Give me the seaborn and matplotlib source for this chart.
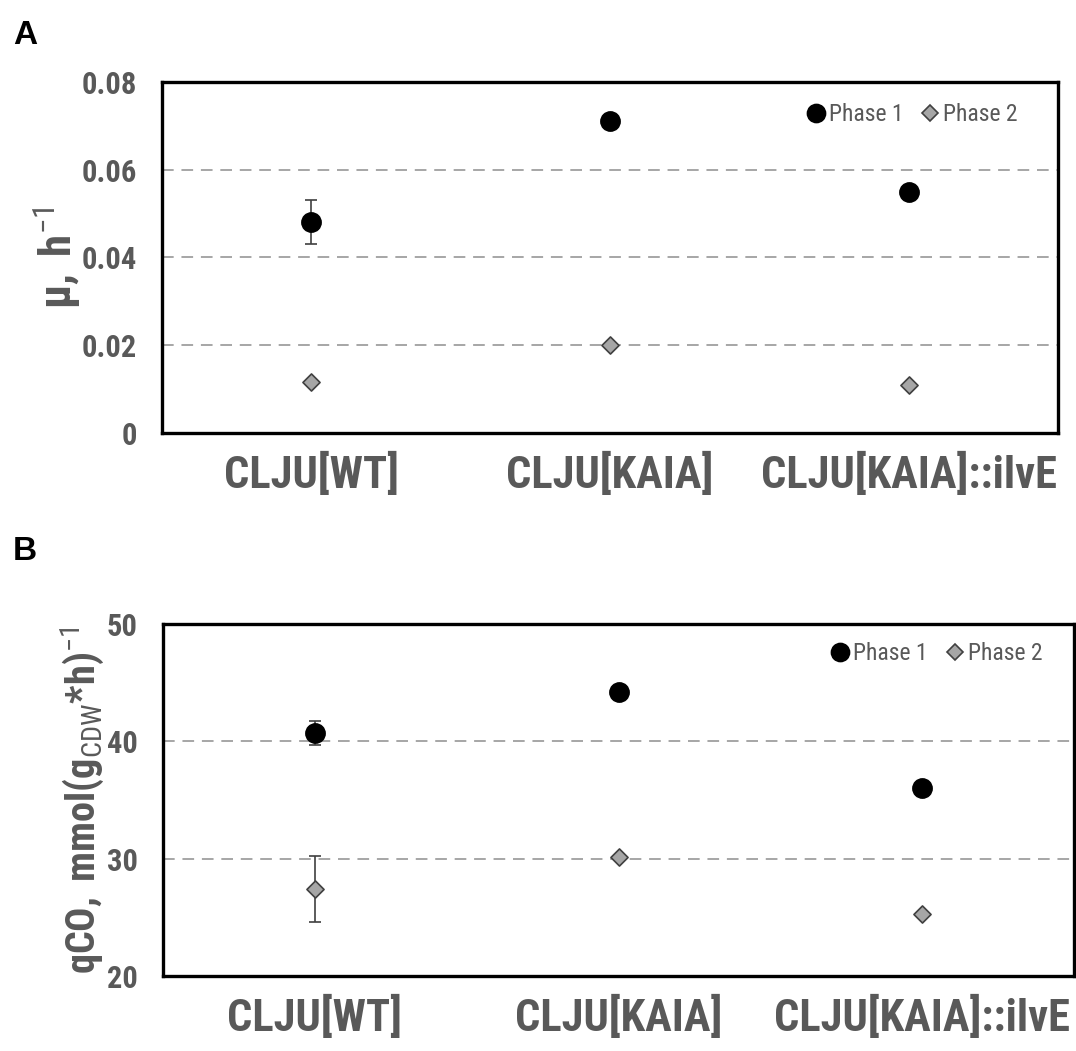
import pandas as pd
import matplotlib
matplotlib.use("Agg")
import matplotlib.pyplot as plt
import seaborn as sns
from matplotlib.lines import Line2D

# === DATA ===
strains = ["CLJU[WT]", "CLJU[KAIA]", "CLJU[KAIA]::ilvE"]
phases = ["Phase 1", "Phase 2"]

mu_phase1 = [0.048, 0.071, 0.055]
mu_phase1_err = [0.005, 0.0, 0.0]
mu_phase2 = [0.0117, 0.020, 0.011]
mu_phase2_err = [0.0, 0.0, 0.0]

qco_phase1 = [40.7, 44.2, 36.0]
qco_phase1_err = [1.0, 0.0, 0.0]
qco_phase2 = [27.4, 30.1, 25.3]
qco_phase2_err = [2.8, 0.0, 0.0]

mu_ticks = [0, 0.02, 0.04, 0.06, 0.08]
qco_ticks = [20, 30, 40, 50]

# === STYLE ===
sns.set_theme(style="white")
NARROW = ["Roboto Condensed", "Archivo Narrow", "Liberation Sans", "DejaVu Sans"]
plt.rcParams["font.family"] = NARROW
plt.rcParams["mathtext.fontset"] = "custom"
plt.rcParams["mathtext.rm"] = "Roboto Condensed"
plt.rcParams["mathtext.bf"] = "Roboto Condensed:bold"
plt.rcParams["mathtext.it"] = "Roboto Condensed:italic"

GREY_TXT = "#595959"
MARKERS = {"Phase 1": "o", "Phase 2": "D"}
FACES = {"Phase 1": "black", "Phase 2": "#a6a6a6"}
EDGES = {"Phase 1": "black", "Phase 2": "#404040"}
SIZES = {"Phase 1": 190, "Phase 2": 76}


def make_frame(p1, p1e, p2, p2e):
    rows = []
    for i, s in enumerate(strains):
        rows.append({"strain": s, "phase": "Phase 1", "value": p1[i], "err": p1e[i]})
        rows.append({"strain": s, "phase": "Phase 2", "value": p2[i], "err": p2e[i]})
    return pd.DataFrame(rows)


def draw_panel(ax, df, ticks, ylabel, ylabel_size, legend_anchor):
    for ph in phases:
        sub = df[df["phase"] == ph]
        sns.scatterplot(data=sub, x="strain", y="value", ax=ax,
                        marker=MARKERS[ph], s=SIZES[ph], color=FACES[ph],
                        edgecolor=EDGES[ph], linewidth=1.2, zorder=4, legend=False)
        with_err = sub[sub["err"] > 0]
        xs = [strains.index(s) for s in with_err["strain"]]
        ax.errorbar(xs, with_err["value"], yerr=with_err["err"], fmt="none",
                    ecolor="#404040", elinewidth=1.2, capsize=4, capthick=1.2, zorder=3)

    ax.set_xlim(-0.5, 2.5)
    ax.set_ylim(ticks[0], ticks[-1])
    ax.set_yticks(ticks)
    ax.set_yticklabels([f"{t:g}" for t in ticks])
    for t in ticks[1:-1]:
        ax.axhline(t, color="#a6a6a6", lw=1.4, ls=(0, (6, 4)), zorder=1)

    ax.set_xlabel("")
    ax.set_ylabel(ylabel, fontsize=ylabel_size, color=GREY_TXT)
    ax.tick_params(axis="x", length=0, pad=14, labelsize=32, labelcolor=GREY_TXT)
    ax.tick_params(axis="y", length=0, pad=18, labelsize=22, labelcolor=GREY_TXT)
    for lab in ax.get_xticklabels() + ax.get_yticklabels():
        lab.set_fontweight("bold")
    for sp in ax.spines.values():
        sp.set_visible(True)
        sp.set_color("black")
        sp.set_linewidth(2.4)

    handles = [Line2D([], [], ls="none", marker=MARKERS[ph], markersize=(13 if ph == "Phase 1" else 8),
                      markerfacecolor=FACES[ph], markeredgecolor=EDGES[ph], markeredgewidth=1.2)
               for ph in phases]
    leg = ax.legend(handles, phases, loc="center right", bbox_to_anchor=legend_anchor,
                    ncol=2, frameon=False, handletextpad=0.0, columnspacing=0.6,
                    handlelength=1.1, borderpad=0, borderaxespad=0,
                    prop={"family": NARROW, "size": 17})
    for txt in leg.get_texts():
        txt.set_color(GREY_TXT)


fig = plt.figure(figsize=(10.76, 10.51), dpi=100)
ax_a = fig.add_axes([0.1506, 0.5880, 0.8327, 0.3340])
ax_b = fig.add_axes([0.1515, 0.0714, 0.8467, 0.3349])

df_mu = make_frame(mu_phase1, mu_phase1_err, mu_phase2, mu_phase2_err)
df_qco = make_frame(qco_phase1, qco_phase1_err, qco_phase2, qco_phase2_err)

draw_panel(ax_a, df_mu, mu_ticks, r"$\mathbf{μ,\ h}^{\mathrm{-1}}$", 32, (0.955, 0.906))
draw_panel(ax_b, df_qco, qco_ticks,
           r"$\mathbf{qCO,\ mmol(g}_{\mathrm{CDW}}\mathbf{{*}h)}^{\mathrm{-1}}$", 29, (0.965, 0.915))
ax_a.yaxis.set_label_coords(-0.088, 0.5)
ax_b.yaxis.set_label_coords(-0.063, 0.5)

fig.text(0.012, 1 - 44 / 1051, "A", fontsize=24, fontweight="bold", color="black",
         family=["Liberation Sans", "DejaVu Sans"], va="baseline")
fig.text(0.012, 1 - 560 / 1051, "B", fontsize=24, fontweight="bold", color="black",
         family=["Liberation Sans", "DejaVu Sans"], va="baseline")

fig.savefig("out.png", dpi=100)
plt.close(fig)
